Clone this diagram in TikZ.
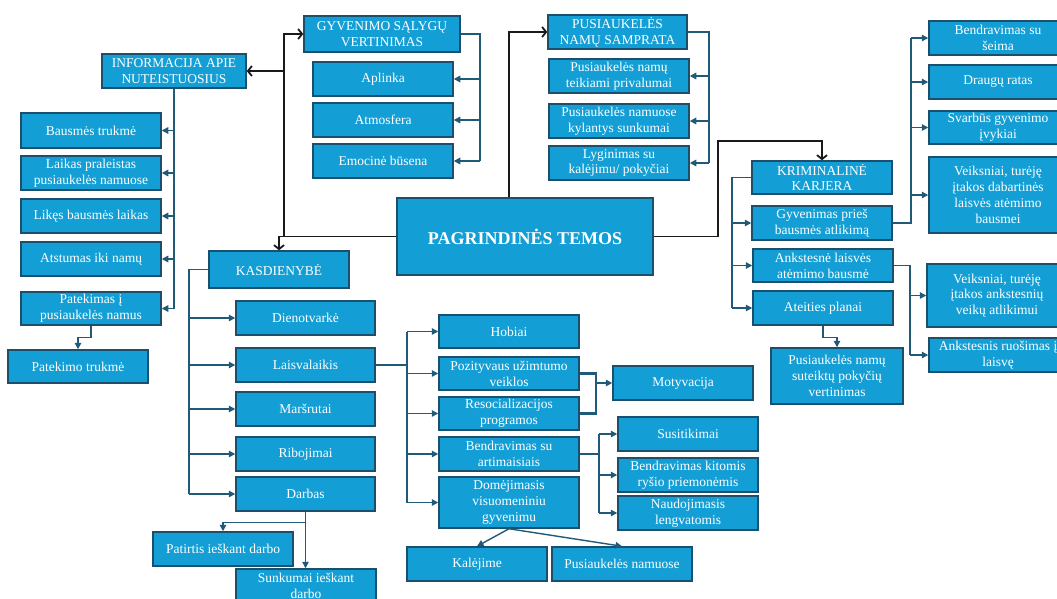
\documentclass[tikz,border=0pt]{standalone}
\usepackage{fontspec}
\setmainfont{Liberation Serif}
\usetikzlibrary{arrows.meta}
\definecolor{boxfill}{HTML}{139FD5}
\definecolor{boxline}{HTML}{1B4F6B}
\definecolor{conn}{HTML}{215A78}
\definecolor{blk}{HTML}{1A1A1A}
\begin{document}
\begin{tikzpicture}[x=1pt,y=-1pt,
 box/.style={draw=boxline, line width=1.5pt, fill=boxfill, text=white, align=center, inner sep=1pt,
   font=\fontsize{13.5}{15.8}\selectfont, minimum width=140pt, minimum height=34pt},
 tl/.style={draw=conn, line width=1.4pt, -{Triangle[length=6.5pt,width=6.5pt]}},
 tn/.style={draw=conn, line width=1.4pt},
 bl/.style={draw=blk, line width=1.8pt, -{Straight Barb[length=4pt,width=10pt,line width=1.8pt]}},
]
\useasboundingbox (0,0) rectangle (1057,598);
\clip (0,0) rectangle (1057,598);
% left column
\node[box, minimum width=144pt] (info) at (174,71) {INFORMACIJA APIE\\NUTEISTUOSIUS};
\node[box, minimum height=35pt] (bt) at (91,130.5) {Bausmės trukmė};
\node[box] (lp) at (91,173) {Laikas praleistas\\pusiaukelės namuose};
\node[box] (lb) at (91,216) {Likęs bausmės laikas};
\node[box] (at) at (91,259) {Atstumas iki namų};
\node[box, minimum height=33pt] (pt) at (91,308.5) {Patekimas į\\pusiaukelės namus};
\node[box, minimum height=33pt] (ptr) at (78,366.5) {Patekimo trukmė};
% gyvenimo
\node[box, minimum width=156pt, minimum height=36pt] (gyv) at (382,34) {GYVENIMO SĄLYGŲ\\VERTINIMAS};
\node[box] (apl) at (383,79) {Aplinka};
\node[box] (atm) at (383,120) {Atmosfera};
\node[box] (emo) at (383,161) {Emocinė būsena};
% pusiaukeles
\node[box, minimum width=139pt] (pus) at (617.5,32) {PUSIAUKELĖS\\NAMŲ SAMPRATA};
\node[box] (pr) at (619,76) {Pusiaukelės namų\\teikiami privalumai};
\node[box] (sk) at (619,121) {Pusiaukelės namuose\\kylantys sunkumai};
\node[box] (lyg) at (619,163) {Lyginimas su\\kalėjimu/ pokyčiai};
% main
\node[box, minimum width=256pt, minimum height=77pt, font=\fontsize{18}{20}\selectfont\bfseries] (main) at (525,236.5) {PAGRINDINĖS TEMOS};
% kasdienybe
\node[box, minimum height=37pt] (kas) at (279,269.5) {KASDIENYBĖ};
\node[box, minimum width=139pt] (dien) at (305.5,318) {Dienotvarkė};
\node[box, minimum width=139pt] (lais) at (305.5,365) {Laisvalaikis};
\node[box, minimum width=139pt] (mars) at (305.5,409) {Maršrutai};
\node[box, minimum width=139pt] (rib) at (305.5,454) {Ribojimai};
\node[box, minimum width=139pt] (darb) at (305.5,494) {Darbas};
\node[box] (pat) at (223,549) {Patirtis ieškant darbo};
\node[box] (sun) at (306,586) {Sunkumai ieškant\\darbo};
% laisvalaikis
\node[box, minimum height=33pt] (hob) at (509,331.5) {Hobiai};
\node[box, minimum height=33pt] (poz) at (509,373.5) {Pozityvaus užimtumo\\veiklos};
\node[box, minimum height=33pt] (res) at (509,413.5) {Resocializacijos\\programos};
\node[box] (ben) at (509,454) {Bendravimas su\\artimaisiais};
\node[box, minimum height=51pt] (dom) at (509,502.5) {Domėjimasis\\visuomeniniu\\gyvenimu};
\node[box] (mot) at (683,383) {Motyvacija};
\node[box] (sus) at (688,434) {Susitikimai};
\node[box] (bkr) at (688,475) {Bendravimas kitomis\\ryšio priemonėmis};
\node[box] (nau) at (688,513) {Naudojimasis\\lengvatomis};
\node[box] (kal) at (477,564) {Kalėjime};
\node[box] (pn) at (622,564) {Pusiaukelės namuose};
% kriminaline
\node[box, minimum height=33pt] (kk) at (822,177.5) {KRIMINALINĖ\\KARJERA};
\node[box] (gpb) at (822,223) {Gyvenimas prieš\\bausmės atlikimą};
\node[box, minimum height=33pt] (alb) at (823,265.5) {Ankstesnė laisvės\\atėmimo bausmė};
\node[box] (ap) at (823,308) {Ateities planai};
\node[box, minimum width=132pt, minimum height=56pt] (psp) at (837,376) {Pusiaukelės namų\\suteiktų pokyčių\\vertinimas};
\node[box, minimum width=138pt] (bss) at (998,38) {Bendravimas su\\šeima};
\node[box, minimum width=138pt] (dr) at (998,82) {Draugų ratas};
\node[box, minimum width=138pt, minimum height=33pt] (sv) at (998,127.5) {Svarbūs gyvenimo\\įvykiai};
\node[box, minimum width=138pt, minimum height=76pt] (vd) at (998,195) {Veiksniai, turėję\\įtakos dabartinės\\laisvės atėmimo\\bausmei};
\node[box, minimum width=140pt, minimum height=63pt] (va) at (997,295.5) {Veiksniai, turėję\\įtakos ankstesnių\\veikų atlikimui};
\node[box, minimum width=138pt] (ar) at (998,355) {Ankstesnis ruošimas į\\laisvę};
% ---- black connectors
\coordinate (jx) at (284,0);
\coordinate (mx) at (509,0);
\coordinate (rx) at (718,141);
\draw[bl] (main.west) -| (kas.north);
\draw[bl] (main.west -| jx) |- (gyv.west);
\draw[bl] (jx |- info.east) -- (info.east);
\draw[bl] (main.north -| mx) |- (pus.west);
\draw[bl] (main.east) -| (rx) -| (kk.north);
% ---- teal connectors
\draw[tn] (info.south) -- (info.south |- pt.east);
\foreach \n in {bt,lp,lb,at,pt} \draw[tl] (info.south |- \n.east) -- (\n.east);
\draw[tl] (pt.south) -- ++(0,12) -| (ptr.north);
\coordinate (gx) at (480,0);
\draw[tn] (gyv.east) -- (gyv.east -| gx) -- (gx |- emo.east);
\foreach \n in {apl,atm,emo} \draw[tl] (gx |- \n.east) -- (\n.east);
\coordinate (sx) at (709,0);
\draw[tn] (pus.east) -- (pus.east -| sx) -- (sx |- lyg.east);
\foreach \n in {pr,sk,lyg} \draw[tl] (sx |- \n.east) -- (\n.east);
\coordinate (kx) at (732,0);
\draw[tn] (kk.west) -- (kk.west -| kx) -- (kx |- ap.west);
\foreach \n in {gpb,alb,ap} \draw[tl] (kx |- \n.west) -- (\n.west);
\coordinate (gx2) at (911,0);
\draw[tn] (gpb.east) -- (gpb.east -| gx2) -- (gx2 |- bss.west);
\foreach \n in {bss,dr,sv,vd} \draw[tl] (gx2 |- \n.west) -- (\n.west);
\coordinate (ax) at (910,0);
\draw[tn] (alb.east) -- (alb.east -| ax) -- (ax |- ar.west);
\foreach \n in {va,ar} \draw[tl] (ax |- \n.west) -- (\n.west);
\draw[tl] (ap.south) -- ++(0,12) -| (psp.north);
\coordinate (kx2) at (189,0);
\draw[tn] (kas.west) -- (kas.west -| kx2) -- (kx2 |- darb.west);
\foreach \n in {dien,lais,mars,rib,darb} \draw[tl] (kx2 |- \n.west) -- (\n.west);
\draw[tl] (darb.south) -- ++(0,11) -| (pat.north);
\draw[tl] (darb.south) -- (darb.south |- sun.north);
\coordinate (lx) at (407,0);
\draw[tn] (lais.east) -- (lais.east -| lx);
\draw[tn] (lx |- hob.west) -- (lx |- dom.west);
\foreach \n in {hob,poz,res,ben,dom} \draw[tl] (lx |- \n.west) -- (\n.west);
\coordinate (px) at (596,0);
\draw[tn, line width=2.2pt] (poz.east) -- (poz.east -| px) -- (px |- res.east) -- (res.east);
\draw[tl, line width=2.2pt] (px |- mot.west) -- (mot.west);
\coordinate (bx) at (599,0);
\draw[tn] (ben.east) -- (ben.east -| bx);
\draw[tn] (bx |- sus.west) -- (bx |- nau.west);
\foreach \n in {sus,bkr,nau} \draw[tl] (bx |- \n.west) -- (\n.west);
\draw[tl] (dom.south) -- (kal.north);
\draw[tl] (dom.south) -- (pn.north);
\end{tikzpicture}
\end{document}
